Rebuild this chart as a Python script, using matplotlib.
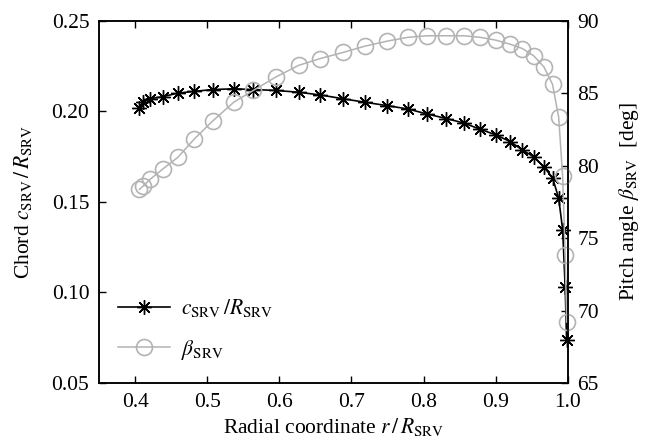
import matplotlib
matplotlib.use("Agg")
import matplotlib.pyplot as plt

plt.rcParams['font.family'] = 'serif'
plt.rcParams['font.serif'] = ['Liberation Serif', 'DejaVu Serif']
plt.rcParams['mathtext.fontset'] = 'stix'
plt.rcParams['font.size'] = 15.5

# radial stations along the blade
r = [0.406, 0.4115, 0.421, 0.438, 0.459, 0.482, 0.508, 0.537, 0.564, 0.595,
     0.627, 0.657, 0.6885, 0.7185, 0.7496, 0.778, 0.805, 0.8315, 0.856, 0.879,
     0.900, 0.920, 0.937, 0.953, 0.967, 0.979, 0.9875, 0.993, 0.9965, 0.9985]

# chord over radius
chord = [0.202, 0.205, 0.207, 0.208, 0.210, 0.211, 0.212, 0.2124, 0.212, 0.2115,
         0.2105, 0.209, 0.2069, 0.205, 0.2031, 0.2013, 0.1985, 0.196, 0.1935, 0.190,
         0.187, 0.1833, 0.1787, 0.1748, 0.1692, 0.1633, 0.152, 0.1346, 0.103, 0.0735]

# pitch angle in degrees
pitch = [78.36, 78.6, 79.06, 79.75, 80.56, 81.83, 83.1, 84.38, 85.19, 86.11,
         86.92, 87.39, 87.81, 88.24, 88.59, 88.85, 88.96, 88.96, 88.96, 88.85,
         88.66, 88.38, 88.08, 87.57, 86.81, 85.6, 83.33, 79.25, 73.85, 69.2]

xticks = [0.4, 0.5, 0.6, 0.7, 0.8, 0.9, 1.0]
chord_ticks = [0.05, 0.10, 0.15, 0.20, 0.25]
pitch_ticks = [65, 70, 75, 80, 85, 90]

grey = '#b3b3b3'

fig = plt.figure(figsize=(6.56, 4.46), dpi=100)
ax = fig.add_axes([0.151, 0.1413, 0.7144, 0.8123])
ax2 = ax.twinx()

l1, = ax.plot(r, chord, color='black', lw=1.2, marker=(8, 2, 0), ms=10.5,
              mew=1.0, clip_on=False, label=r'$c_\mathrm{SRV}\,/R_\mathrm{SRV}$')
l2, = ax2.plot(r, pitch, color=grey, lw=1.1, marker='o', ms=11.5,
               mfc='none', mec=grey, mew=1.2, clip_on=False,
               label=r'$\beta_\mathrm{SRV}$')

ax.set_xlim(0.35, 1.0)
ax.set_ylim(0.05, 0.25)
ax2.set_ylim(65, 90)
ax.set_xticks(xticks)
ax.set_xticklabels(['%.1f' % v for v in xticks])
ax.set_yticks(chord_ticks)
ax.set_yticklabels(['%.2f' % v for v in chord_ticks])
ax2.set_yticks(pitch_ticks)

ax.tick_params(direction='in', length=5, width=1, pad=7, top=True, right=False)
ax2.tick_params(direction='in', length=5, width=1, pad=7)
for a in (ax, ax2):
    for s in a.spines.values():
        s.set_linewidth(1.1)

ax.set_xlabel(r'Radial coordinate $r\,/\,R_\mathrm{SRV}$', labelpad=3)
ax.set_ylabel(r'Chord $c_\mathrm{SRV}\,/\,R_\mathrm{SRV}$', labelpad=13)
ax2.set_ylabel(r'Pitch angle $\beta_\mathrm{SRV}$  [deg]', labelpad=13)

ax2.legend([l1, l2], [l1.get_label(), l2.get_label()], loc='lower left',
           bbox_to_anchor=(0.0, 0.005), frameon=False, handlelength=2.4,
           labelspacing=0.85, handletextpad=0.5)

fig.savefig('out.png', dpi=100)
